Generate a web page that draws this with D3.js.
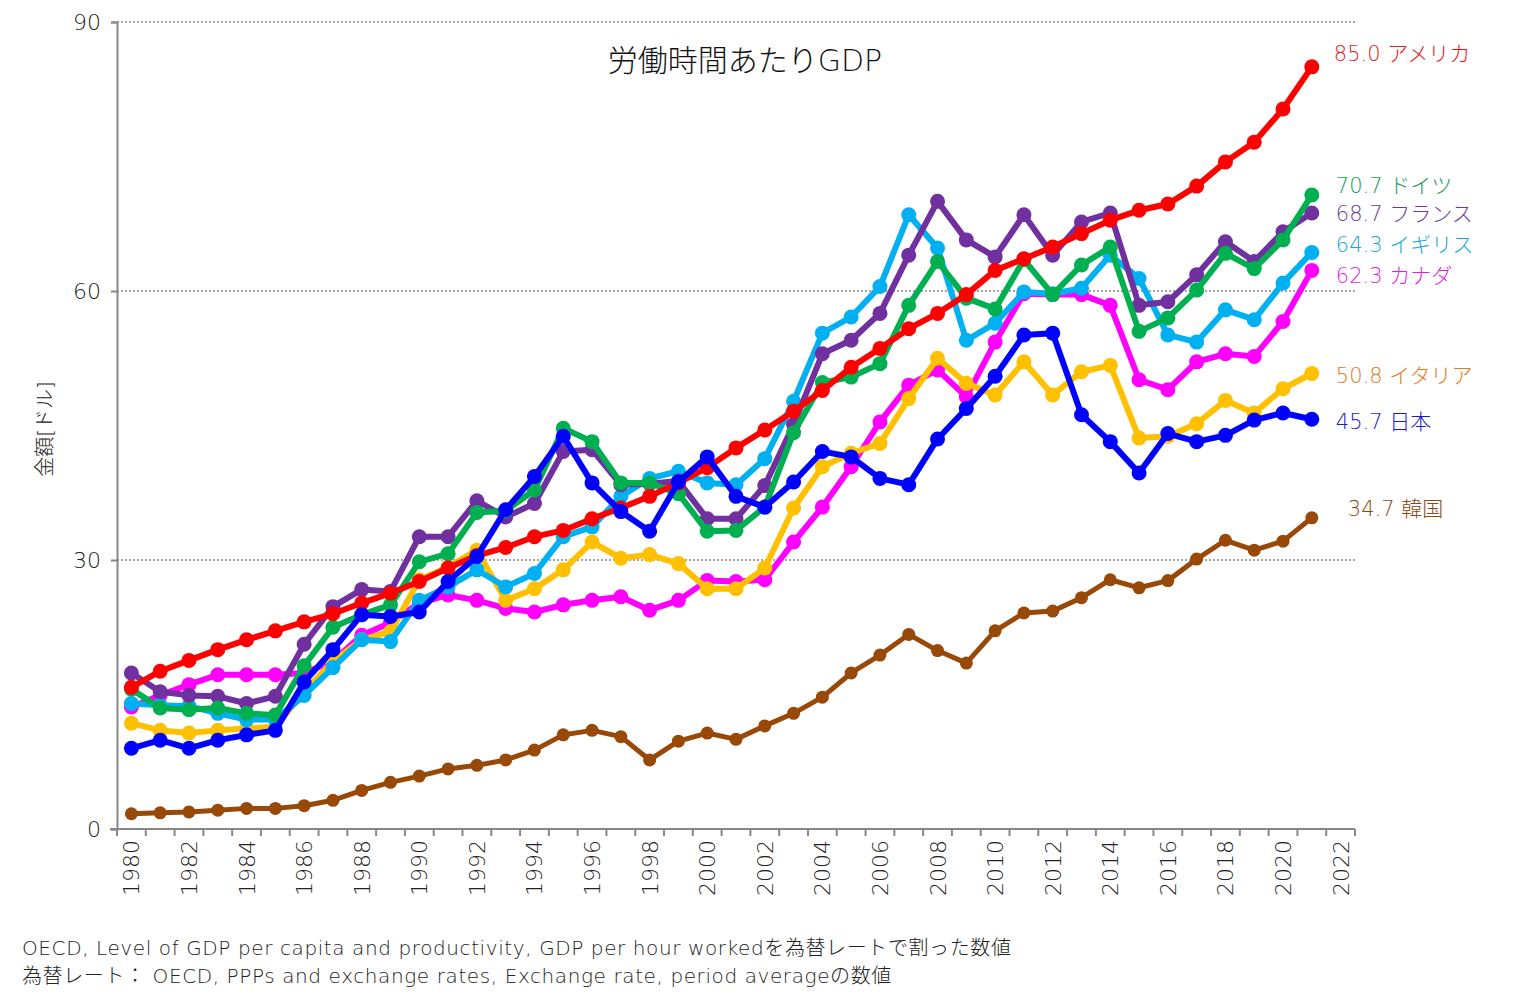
<!DOCTYPE html>
<html><head><meta charset="utf-8">
<script src="https://cdn.jsdelivr.net/npm/d3@7"></script>
<style>
html,body{margin:0;padding:0;background:#fff;}
svg{display:block;font-family:"DejaVu Sans","Noto Sans CJK JP",sans-serif;}
</style></head>
<body>
<svg id="chart" width="1524" height="995"></svg>
<script>
const years = d3.range(1980, 2023).map(String);
const dataYears = d3.range(1980, 2022).map(String);
const yTicks = [0, 30, 60, 90];
const xTickLabels = d3.range(1980, 2023, 2).map(String);

const names = ["韓国","カナダ","イタリア","イギリス","フランス","ドイツ","アメリカ","日本"];
const korea = [1.7,1.8,1.9,2.1,2.3,2.3,2.6,3.2,4.3,5.2,5.9,6.7,7.1,7.7,8.8,10.5,11.0,10.3,7.7,9.8,10.7,10.0,11.5,12.9,14.7,17.4,19.4,21.7,19.9,18.5,22.1,24.1,24.3,25.8,27.8,26.9,27.7,30.1,32.2,31.1,32.1,34.7];
const canada = [13.6,14.9,16.1,17.2,17.2,17.2,17.4,18.7,21.6,23.0,25.2,26.1,25.5,24.6,24.2,25.0,25.5,25.9,24.4,25.5,27.7,27.6,27.8,32.0,35.9,40.4,45.4,49.5,51.2,48.2,54.3,59.7,59.6,59.6,58.4,50.1,49.0,52.1,53.0,52.7,56.6,62.3];
const italy = [11.8,11.0,10.7,11.0,11.2,11.4,15.3,18.7,21.1,22.0,27.8,29.2,31.1,25.5,26.8,28.9,32.0,30.2,30.6,29.6,26.8,26.8,29.1,35.8,40.4,41.9,43.0,48.0,52.5,49.7,48.4,52.1,48.4,51.0,51.7,43.6,43.8,45.2,47.8,46.4,49.1,50.8];
const uk = [14.0,13.8,13.7,12.9,12.2,12.2,14.9,18.0,21.1,20.9,25.5,27.0,28.9,27.0,28.5,32.6,33.7,37.1,39.1,39.9,38.6,38.4,41.3,47.7,55.3,57.1,60.5,68.5,64.8,54.5,56.4,59.9,59.7,60.3,64.0,61.4,55.1,54.3,57.9,56.8,60.9,64.3];
const france = [17.4,15.3,14.9,14.8,14.0,14.8,20.6,24.8,26.7,26.5,32.6,32.6,36.6,34.8,36.3,42.1,42.3,38.4,38.5,38.8,34.6,34.6,38.3,45.1,53.0,54.5,57.5,64.0,70.0,65.7,63.8,68.5,64.0,67.7,68.7,58.4,58.8,61.8,65.5,63.3,66.6,68.7];
const germany = [15.6,13.5,13.3,13.5,12.9,12.7,18.2,22.5,23.9,25.0,29.8,30.7,35.3,35.5,37.8,44.7,43.2,38.6,38.6,37.4,33.2,33.3,35.9,44.2,49.8,50.4,51.9,58.4,63.3,59.2,58.0,63.5,59.6,62.9,64.9,55.5,57.0,60.1,64.2,62.5,65.7,70.7];
const usa = [15.8,17.6,18.8,20.0,21.1,22.1,23.1,24.0,25.2,26.3,27.6,29.1,30.5,31.4,32.6,33.3,34.6,35.8,37.1,38.6,40.3,42.5,44.5,46.6,48.9,51.5,53.6,55.8,57.5,59.6,62.3,63.6,64.9,66.4,67.9,69.0,69.7,71.7,74.4,76.6,80.3,85.0];
const japan = [9.0,9.9,9.0,9.9,10.5,11.0,16.4,20.0,23.9,23.7,24.2,27.6,30.4,35.6,39.3,43.8,38.6,35.4,33.2,38.7,41.5,37.1,35.9,38.7,42.1,41.5,39.1,38.4,43.5,46.9,50.5,55.1,55.3,46.2,43.2,39.7,44.1,43.2,43.9,45.6,46.4,45.7];

const seriesValues = [korea, canada, italy, uk, france, germany, usa, japan];
const lineColors = ["#984807","#ff00ff","#ffc000","#00b0f0","#7030a0","#00b050","#ff0000","#0000ff"];
const labelColors = ["#8a4a14","#e21ee2","#e07a1e","#1aa6de","#6a3a9a","#1a9a5a","#e01a1a","#1a1ac8"];
const labelDy = [-8, 7, 4, -6, 2, -8, -12, 4];
const labelDx = [36, 24, 24, 24, 24, 24, 22, 24];

const svg = d3.select("#chart");
const x = d3.scaleBand().domain(years).range([117, 1355]).paddingInner(0).paddingOuter(0);
const y = d3.scaleLinear().domain([0, 90]).range([829, 22]);
const cx = d => x(d) + x.bandwidth() / 2;

// gridlines
svg.append("g").selectAll("line").data(yTicks.filter(t => t > 0)).join("line")
  .attr("x1", 117).attr("x2", 1355)
  .attr("y1", d => y(d)).attr("y2", d => y(d))
  .attr("stroke", "#888").attr("stroke-width", 1.5).attr("stroke-dasharray", "2,2");

// y axis
const yAxis = svg.append("g").attr("transform", "translate(117,0)")
  .call(d3.axisLeft(y).tickValues(yTicks).tickSize(6).tickPadding(6));
yAxis.select(".domain").attr("stroke", "#888").attr("stroke-width", 2);
yAxis.selectAll(".tick line").attr("stroke", "#888").attr("stroke-width", 2);
yAxis.selectAll(".tick text").attr("font-size", 22).attr("fill", "#222")
  .attr("font-family", "'DejaVu Sans', sans-serif").attr("font-weight", 200).attr("dx", -4);

// x axis (ticks at band boundaries)
const xg = svg.append("g").attr("transform", "translate(0,829)");
xg.append("line").attr("x1", 110).attr("x2", 1355).attr("y1", 0).attr("y2", 0)
  .attr("stroke", "#888").attr("stroke-width", 2);
xg.selectAll("line.tk").data(years.concat(["end"])).join("line").attr("class", "tk")
  .attr("x1", (d, i) => 117 + i * x.step()).attr("x2", (d, i) => 117 + i * x.step())
  .attr("y1", 0).attr("y2", 7).attr("stroke", "#888").attr("stroke-width", 2);
xg.selectAll("text").data(xTickLabels).join("text")
  .attr("transform", d => `translate(${cx(d) + 8},11) rotate(-90)`)
  .attr("text-anchor", "end")
  .attr("font-size", 22).attr("fill", "#222").attr("font-weight", 200)
  .text(d => d);

// lines
const line = d3.line().x((d, i) => cx(dataYears[i])).y(d => y(d));
seriesValues.forEach((vals, s) => {
  const g = svg.append("g");
  const isKorea = s === 0;
  g.append("path").datum(vals).attr("d", line)
    .attr("fill", "none").attr("stroke", lineColors[s])
    .attr("stroke-width", isKorea ? 5 : 6).attr("stroke-linejoin", "round");
  g.selectAll("circle").data(vals).join("circle")
    .attr("cx", (d, i) => cx(dataYears[i])).attr("cy", d => y(d))
    .attr("r", isKorea ? 6.5 : 7.5).attr("fill", lineColors[s]);
  const last = vals[vals.length - 1];
  svg.append("text")
    .attr("x", cx(dataYears[dataYears.length - 1]) + labelDx[s])
    .attr("y", y(last) + labelDy[s])
    .attr("dominant-baseline", "middle")
    .attr("font-size", 21).attr("fill", labelColors[s]).attr("font-weight", 200)
    .text(last.toFixed(1) + " " + names[s]);
});

// title
svg.append("text").attr("x", 745).attr("y", 71).attr("text-anchor", "middle")
  .attr("font-size", 30).attr("fill", "#111").attr("font-weight", 300).text("労働時間あたりGDP");

// y axis title
svg.append("text").attr("transform", "translate(52,429) rotate(-90)")
  .attr("text-anchor", "middle").attr("font-size", 20).attr("fill", "#222").attr("font-weight", 300)
  .text("金額[ドル]");

// footnotes
svg.append("text").attr("x", 22).attr("y", 955).attr("font-size", 20).attr("letter-spacing", 0.6)
  .attr("fill", "#222").attr("font-weight", 200)
  .text("OECD, Level of GDP per capita and productivity, GDP per hour workedを為替レートで割った数値");
svg.append("text").attr("x", 22).attr("y", 983).attr("font-size", 20).attr("letter-spacing", 0.6)
  .attr("fill", "#222").attr("font-weight", 200)
  .text("為替レート： OECD, PPPs and exchange rates, Exchange rate, period averageの数値");
</script>
</body></html>
